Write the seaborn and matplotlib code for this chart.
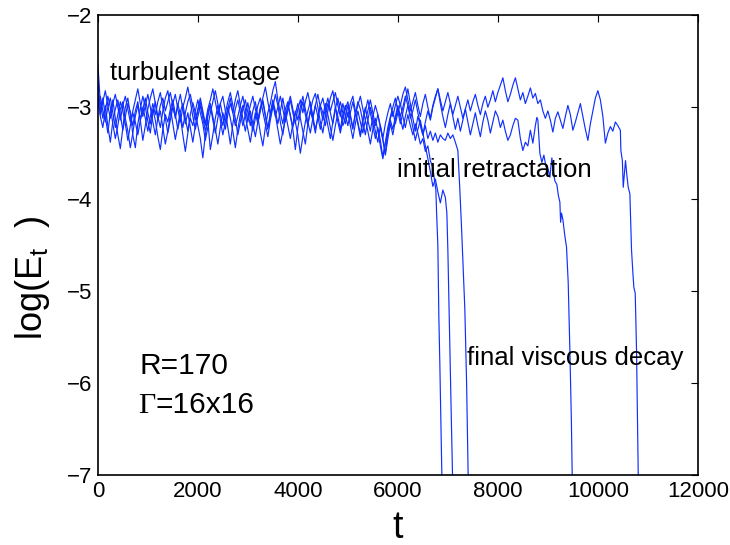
import numpy as np
import pandas as pd
import matplotlib
matplotlib.use("Agg")
import matplotlib.pyplot as plt
import seaborn as sns

STEP = 50  # sampling interval of the turbulent part (time units)

# ---------------- run A (decays near t = 6880) ----------------
run_a_turb = [
    -2.52, -2.95, -3.12, -2.98, -3.20, -3.38, -3.15, -3.02, -2.92, -3.08, -3.25, -3.10, -2.96, -3.05, -3.30, -3.44, -3.18, -3.02, -2.88, -3.00,
    -3.15, -3.28, -3.06, -2.94, -3.10, -3.22, -3.04, -2.90, -2.82, -3.00, -3.18, -3.35, -3.20, -3.05, -2.96, -3.12, -3.26, -3.08, -2.95, -3.06,
    -3.20, -3.34, -3.55, -3.30, -3.10, -2.98, -3.14, -3.28, -3.12, -2.96, -2.88, -3.04, -3.22, -3.40, -3.18, -3.02, -2.92, -3.06, -3.20, -3.08,
    -2.95, -3.10, -3.26, -3.12, -2.98, -2.90, -3.05, -3.18, -3.32, -3.14, -3.00, -2.86, -2.98, -3.16, -3.30, -3.12, -2.98, -3.08, -3.24, -3.46,
    -3.22, -3.06, -2.94, -3.08, -3.20, -3.04, -2.92, -2.85, -3.00, -3.16, -3.28, -3.10, -2.96, -3.06, -3.18, -3.02, -2.90, -3.04, -3.20, -3.12,
    -2.98, -3.10, -3.24, -3.08, -2.94, -3.02, -3.16, -3.30, -3.14, -3.00, -3.12, -3.26, -3.38, -3.20, -3.34, -3.50, -3.28, -3.12, -3.04, -3.18,
    -3.06, -2.96, -3.10, -3.22, -3.08, -3.20, -3.30, -3.18, -3.28, -3.40,
]
run_a_tail_t = [6500, 6550, 6600, 6650, 6700, 6730, 6760, 6775, 6800, 6820, 6840, 6860, 6880, 6890]
run_a_tail_v = [-3.34, -3.48, -3.42, -3.58, -3.66, -3.78, -3.90, -4.15, -4.50, -5.28, -5.80, -6.40, -7.05, -7.30]

# ---------------- run B (decays near t = 7090) ----------------
run_b_turb = [
    -2.70, -3.05, -2.90, -3.10, -3.28, -3.06, -2.92, -3.12, -3.30, -3.45, -3.22, -3.00, -2.90, -3.08, -3.20, -3.04, -2.94, -3.14, -3.36, -3.20,
    -3.02, -2.90, -2.80, -2.96, -3.14, -3.04, -3.22, -3.40, -3.26, -3.08, -2.96, -2.86, -3.02, -3.16, -3.00, -2.90, -2.78, -2.94, -3.10, -3.24,
    -3.10, -2.98, -3.12, -3.26, -3.14, -3.46, -3.30, -3.12, -2.98, -3.08, -3.20, -3.06, -2.94, -2.84, -2.98, -3.12, -3.30, -3.16, -3.02, -2.92,
    -3.06, -3.20, -3.04, -2.94, -3.10, -3.28, -3.42, -3.22, -3.06, -2.96, -2.82, -2.72, -2.92, -3.06, -3.18, -3.02, -2.94, -3.10, -3.22, -3.08,
    -2.96, -3.12, -3.26, -3.40, -3.18, -3.04, -3.14, -3.28, -3.10, -2.98, -2.90, -3.04, -3.20, -3.34, -3.16, -3.00, -3.10, -3.24, -3.08, -2.98,
    -3.10, -2.96, -2.88, -3.04, -3.16, -3.30, -3.12, -3.00, -3.14, -3.26, -3.10, -2.98, -3.08, -3.22, -3.36, -3.52, -3.34, -3.18, -3.30, -3.14,
    -3.00, -3.12, -3.24, -3.10, -2.98, -3.08, -3.22, -3.36, -3.24, -3.14, -3.28, -3.42, -3.56, -3.70, -3.86, -3.78, -3.92, -4.04, -3.90, -3.98,
]
run_b_tail_t = [6980, 7000, 7040, 7070, 7095, 7105]
run_b_tail_v = [-4.15, -4.55, -5.64, -6.40, -7.05, -7.30]

# ---------------- run C (decays near t = 7400) ----------------
run_c_turb = [
    -2.85, -3.10, -3.22, -3.04, -2.88, -3.00, -3.18, -3.34, -3.20, -3.02, -2.94, -3.12, -3.26, -3.44, -3.28, -3.10, -2.98, -3.14, -3.02, -2.90,
    -3.06, -3.18, -3.02, -3.14, -3.32, -3.46, -3.24, -3.08, -3.16, -3.02, -2.92, -3.08, -3.24, -3.10, -3.30, -3.48, -3.28, -3.12, -3.20, -3.04,
    -2.92, -3.06, -3.18, -3.36, -3.22, -3.06, -2.94, -2.82, -2.96, -3.14, -3.30, -3.16, -3.00, -3.12, -3.26, -3.44, -3.24, -3.08, -2.98, -3.10,
    -3.24, -3.38, -3.20, -3.06, -3.18, -3.04, -2.92, -3.08, -3.22, -3.10, -2.96, -3.08, -3.24, -3.40, -3.26, -3.12, -2.98, -2.88, -3.02, -3.16,
    -3.30, -3.50, -3.32, -3.16, -3.04, -2.94, -3.10, -3.24, -3.12, -2.98, -3.06, -3.20, -3.04, -2.90, -2.82, -3.00, -3.16, -3.28, -3.14, -3.02,
    -2.94, -3.08, -3.22, -3.06, -3.18, -3.32, -3.16, -3.04, -2.92, -3.06, -3.20, -3.34, -3.22, -3.36, -3.54, -3.38, -3.22, -3.10, -3.00, -2.90,
    -3.04, -3.18, -3.06, -2.92, -2.80, -2.96, -3.12, -3.26, -3.10, -3.20, -3.30, -3.20, -3.34, -3.26, -3.36, -3.28, -3.38, -3.30, -3.34, -3.36,
    -3.28, -3.34, -3.30, -3.38,
]
run_c_tail_t = [7200, 7240, 7273, 7310, 7340, 7375, 7405, 7415]
run_c_tail_v = [-3.47, -3.90, -4.30, -4.80, -5.20, -6.00, -7.00, -7.30]

# ---------------- run D (decays near t = 9490) ----------------
run_d_turb = [
    -3.00, -2.88, -3.04, -3.16, -3.00, -2.90, -3.06, -3.22, -3.08, -2.94, -3.04, -3.18, -3.36, -3.20, -3.06, -3.16, -3.30, -3.14, -3.00, -3.12,
    -3.26, -3.10, -2.96, -3.08, -2.94, -2.84, -3.00, -3.12, -3.28, -3.14, -3.00, -3.10, -2.98, -2.86, -3.02, -3.18, -3.06, -3.22, -3.38, -3.20,
    -3.04, -2.94, -3.08, -3.20, -3.06, -2.96, -3.10, -3.24, -3.40, -3.22, -3.06, -3.16, -3.02, -2.90, -3.06, -3.20, -3.10, -2.98, -2.88, -3.02,
    -3.16, -3.04, -3.18, -3.32, -3.16, -3.02, -2.94, -3.10, -3.24, -3.06, -2.92, -3.04, -3.18, -3.04, -2.90, -3.06, -3.20, -3.34, -3.18, -3.04,
    -3.14, -3.00, -2.88, -3.02, -3.16, -3.28, -3.12, -2.98, -3.10, -3.24, -3.10, -2.96, -3.08, -3.22, -3.36, -3.20, -3.06, -2.94, -3.06, -3.18,
    -3.06, -3.20, -3.34, -3.18, -3.04, -3.16, -3.28, -3.14, -3.26, -3.40, -3.24, -3.12, -3.26, -3.42, -3.56, -3.40, -3.26, -3.14, -3.24, -3.10,
    -2.98, -3.10, -3.00, -2.88, -2.98, -3.12, -3.04, -2.92, -3.06, -3.18, -3.30, -3.16, -3.04, -3.14, -3.00, -2.90, -2.80, -2.96, -3.10, -3.22,
    -3.08, -2.96, -3.10, -3.24, -3.12, -3.26, -3.14, -3.02, -3.16, -3.30, -3.18, -3.06, -3.20, -3.32, -3.16, -3.04, -3.14, -3.28, -3.16, -3.04,
    -3.10, -3.22, -3.14, -3.26, -3.36, -3.30, -3.20, -3.12, -3.14, -3.34, -3.47, -3.38, -3.42, -3.25, -3.39, -3.20,
]
run_d_tail_t = [8780, 8800, 8840, 8880, 8920, 8960, 9000, 9040, 9080, 9110, 9140, 9180, 9210, 9240, 9255,
                9273, 9300, 9340, 9373, 9407, 9440, 9470, 9487, 9495]
run_d_tail_v = [-3.11, -3.14, -3.50, -3.60, -3.52, -3.64, -3.66, -3.76, -3.55, -3.70, -3.80, -3.84, -3.96, -4.03, -4.25,
                -4.15, -4.22, -4.40, -4.52, -4.91, -5.64, -6.40, -7.00, -7.30]

# ---------------- run E (decays near t = 10810) ----------------
run_e_turb = [
    -2.90, -3.08, -2.94, -2.82, -2.98, -3.12, -2.96, -2.86, -3.00, -3.14, -2.98, -2.88, -3.02, -3.16, -3.04, -2.92, -2.80, -2.96, -3.10, -2.98,
    -2.86, -3.00, -3.16, -3.30, -3.12, -2.98, -2.90, -3.04, -2.94, -2.84, -2.98, -3.12, -2.96, -3.08, -3.22, -3.06, -2.94, -2.86, -3.00, -3.14,
    -3.02, -2.90, -3.04, -3.18, -3.02, -2.92, -2.80, -2.94, -3.08, -2.96, -3.10, -3.24, -3.08, -2.96, -3.06, -2.92, -2.82, -2.98, -3.12, -3.26,
    -3.10, -2.98, -2.88, -3.02, -3.14, -3.00, -2.90, -2.78, -2.94, -3.08, -2.96, -3.10, -3.00, -2.88, -3.02, -3.16, -3.04, -2.92, -3.06, -3.18,
    -3.02, -2.92, -3.06, -2.94, -2.84, -2.98, -3.12, -2.98, -2.86, -3.00, -3.14, -3.02, -2.90, -3.04, -2.94, -2.84, -2.98, -3.10, -2.96, -3.08,
    -3.20, -3.06, -2.94, -3.08, -2.98, -2.88, -3.02, -3.14, -3.04, -2.92, -3.06, -3.20, -3.08, -3.20, -3.34, -3.18, -3.06, -2.96, -3.10, -2.98,
    -2.88, -2.98, -2.86, -2.78, -2.92, -3.04, -2.94, -2.84, -2.98, -3.10, -2.96, -2.86, -3.00, -3.12, -2.98, -2.88, -2.80, -2.92, -3.04, -2.94,
    -2.84, -2.96, -3.08, -2.98, -2.88, -3.00, -3.12, -3.02, -2.92, -3.04, -2.94, -2.86, -2.98, -3.08, -2.96, -2.88, -3.00, -2.92, -2.82, -2.94,
    -2.84, -2.76, -2.68, -2.82, -2.94, -2.86, -2.76, -2.68, -2.80, -2.92, -2.84, -2.96, -2.88, -2.79, -2.90, -2.85, -2.96, -2.92, -3.04, -3.12,
    -3.04, -3.14, -3.27, -3.12, -3.05, -3.14, -3.23, -3.10, -2.98, -3.08, -3.25, -3.16, -3.06, -2.96, -3.10, -3.24, -3.36, -3.18, -3.04, -2.90,
    -2.82, -2.92, -3.10, -3.39, -3.28, -3.21, -3.26, -3.16, -3.20, -3.25,
]
run_e_tail_t = [10460, 10490, 10507, 10530, 10553, 10580, 10607, 10640, 10673, 10700, 10720, 10747, 10773, 10790, 10807, 10815]
run_e_tail_v = [-3.47, -3.58, -3.87, -3.72, -3.58, -3.74, -3.87, -3.94, -4.55, -4.80, -4.96, -5.02, -5.64, -6.30, -6.97, -7.30]

run_names = ["A", "B", "C", "D", "E"]
runs_turb = [run_a_turb, run_b_turb, run_c_turb, run_d_turb, run_e_turb]
runs_tail_t = [run_a_tail_t, run_b_tail_t, run_c_tail_t, run_d_tail_t, run_e_tail_t]
runs_tail_v = [run_a_tail_v, run_b_tail_v, run_c_tail_v, run_d_tail_v, run_e_tail_v]

x_ticks = [0, 2000, 4000, 6000, 8000, 10000, 12000]
y_ticks = [-7, -6, -5, -4, -3, -2]

frames = []
for name, turb, tt, tv in zip(run_names, runs_turb, runs_tail_t, runs_tail_v):
    t = list(np.arange(len(turb)) * STEP) + list(tt)
    v = list(turb) + list(tv)
    frames.append(pd.DataFrame({"t": t, "logE": v, "run": name}))
df = pd.concat(frames, ignore_index=True)

sns.set_style("white")
plt.rcParams["font.family"] = ["Liberation Sans", "DejaVu Sans"]
plt.rcParams["mathtext.fontset"] = "custom"
plt.rcParams["mathtext.rm"] = "Liberation Sans"
plt.rcParams["mathtext.it"] = "Liberation Sans:italic"
plt.rcParams["mathtext.bf"] = "Liberation Sans:bold"
plt.rcParams["text.color"] = "black"
plt.rcParams["axes.labelcolor"] = "black"
plt.rcParams["xtick.color"] = "black"
plt.rcParams["ytick.color"] = "black"

fig = plt.figure(figsize=(7.3, 5.45), dpi=100)
ax = fig.add_axes([0.134, 0.128, 0.822, 0.844])

sns.lineplot(data=df, x="t", y="logE", units="run", estimator=None, sort=False,
             color="#1030ff", linewidth=0.85, ax=ax, legend=False)

ax.set_xlim(0, 12000)
ax.set_ylim(-7, -2)
ax.set_xticks(x_ticks)
ax.set_yticks(y_ticks)
ax.tick_params(direction="in", top=True, right=True, length=5, width=0.8,
               labelsize=16, colors="black", labelcolor="black", pad=4)
for sp in ax.spines.values():
    sp.set_visible(True)
    sp.set_color("black")
    sp.set_linewidth(1.2)

ax.set_xlabel("t", fontsize=27, color="black")
ax.xaxis.set_label_coords(0.5, -0.075)
ax.set_ylabel(r"log(E$_{\mathrm{t}}$  )", fontsize=26, color="black")
ax.yaxis.set_label_coords(-0.076, 0.43)

txt_size = 18.5
ax.text(240, -2.63, "turbulent stage", fontsize=txt_size, ha="left", va="center", color="black")
ax.text(5974, -3.685, "initial retractation", fontsize=txt_size, ha="left", va="center", color="black")
ax.text(7374, -5.73, "final viscous decay", fontsize=txt_size, ha="left", va="center", color="black")
ax.text(840, -5.815, "R=170", fontsize=21.5, ha="left", va="center", color="black")
g = ax.text(800, -6.25, "Γ", fontsize=21.5, ha="left", va="center", color="black",
            family=["Liberation Serif", "DejaVu Serif"])
ax.annotate("=16x16", xy=(1, 0), xycoords=g, fontsize=21.5, ha="left", va="bottom", color="black")

fig.savefig("out.png", dpi=100)
